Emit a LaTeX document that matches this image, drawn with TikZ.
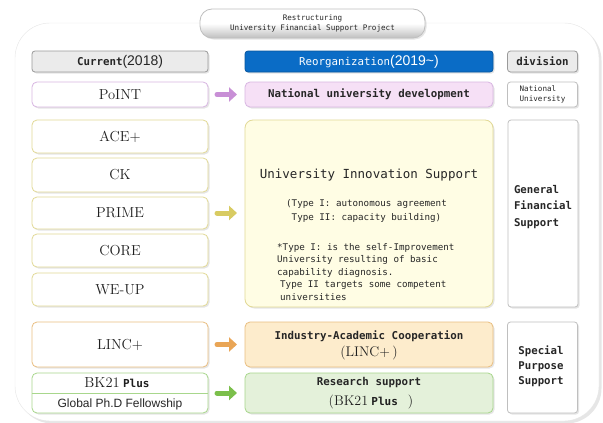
\documentclass[tikz,border=0pt]{standalone}
\usepackage{fontspec}
\usepackage{xcolor}
\usepackage{tikz}
\usetikzlibrary{arrows.meta,shadows}

\newfontfamily\monofam{DejaVu Sans Mono}
\newfontfamily\sansfam{Liberation Sans}
\newcommand{\fsz}[2]{\fontsize{#1}{#2}\selectfont}

\definecolor{boxgray}{HTML}{EBEBEB}
\definecolor{edgegray}{HTML}{9A9A9A}
\definecolor{reorgblue}{HTML}{0A6CC6}
\definecolor{violetedge}{HTML}{D8B6E2}
\definecolor{violetfill}{HTML}{F6E0F6}
\definecolor{violetarrow}{HTML}{C88FD6}
\definecolor{khakiedge}{HTML}{E2D996}
\definecolor{khakifill}{HTML}{FFFDE4}
\definecolor{khakiarrow}{HTML}{D8CB62}
\definecolor{orangeedge}{HTML}{E9BE80}
\definecolor{orangefill}{HTML}{FDECCC}
\definecolor{orangearrow}{HTML}{E9A556}
\definecolor{greenedge}{HTML}{A8D78C}
\definecolor{greenfill}{HTML}{E4F1DA}
\definecolor{greenarrow}{HTML}{7BBF4B}

\begin{document}
\begin{tikzpicture}
    [x=1pt,y=-1pt,
    box/.style={draw,rounded corners=5pt,inner sep=0pt,outer sep=0pt,line width=0.8pt,
        drop shadow={shadow xshift=1.5pt,shadow yshift=-1.5pt,opacity=0.2}},
    oldbox/.style={box,fill=white,minimum width=176pt,text=black!88,font=\fsz{14.5}{17}},
    newbox/.style={box,minimum width=248pt},
    divbox/.style={box,rounded corners=3pt,fill=white,draw=black!25,minimum width=70pt},
    headbox/.style={box,rounded corners=3pt,fill=boxgray,draw=edgegray,minimum height=21pt,text=black!85},
    shift arrow/.style={line width=5pt,line cap=round,-{Triangle[length=8pt,width=14pt]},
        shorten <=9pt,shorten >=8pt},
    caption/.style={inner sep=0pt,text=black!85},
    monotext/.style={font=\monofam\bfseries\fsz{10.8}{13},text=black!85}]

\useasboundingbox (0,0) rectangle (603,423);

%outer frame and title
\node[draw=black!10,fill=white,rounded corners=35pt,minimum width=584pt,minimum height=398pt,inner sep=0pt,
    drop shadow={shadow xshift=2.5pt,shadow yshift=-2.5pt,opacity=0.2}] (frame) at (307,222) {};
\node[box,rounded corners=12pt,top color=white,bottom color=black!25,middle color=white,draw=black!25,
    minimum width=225pt,minimum height=29pt,align=center,font=\monofam\fsz{7.6}{10.5},text=black!85]
    (title) at (312.5,23.5) {Restructuring\\University Financial Support Project};

%column headers
\node[headbox,minimum width=176pt] (current) at (120,61.5)
    {{\monofam\bfseries\fsz{10.8}{13}Current}{\sansfam\fsz{14}{16}(2018)}};
\node[headbox,minimum width=248pt,fill=reorgblue,draw=reorgblue!80!black,text=white] (reorg) at (369,61.5)
    {{\monofam\fsz{10.8}{13}Reorganization}{\sansfam\fsz{14}{16}(2019\textasciitilde)}};
\node[headbox,minimum width=70pt] (division) at (542.5,61.5) {{\monofam\bfseries\fsz{10.8}{13}division}};

%national university row
\node[oldbox,draw=violetedge,minimum height=25pt] (point) at (120,94.5) {PoINT};
\node[newbox,fill=violetfill,draw=violetedge,minimum height=25pt,monotext] (natl) at (369,94.5)
    {National university development};
\node[divbox,minimum height=25pt,align=left,font=\monofam\fsz{7.6}{9.5},text=black!85] (natuni) at (542.5,94.5)
    {National\\University};

%general financial support rows
\node[oldbox,draw=khakiedge,minimum height=33pt] (ace) at (120,136.5) {ACE+};
\node[oldbox,draw=khakiedge,minimum height=34pt] (ck) at (120,175) {CK};
\node[oldbox,draw=khakiedge,minimum height=32pt] (prime) at (120,213) {PRIME};
\node[oldbox,draw=khakiedge,minimum height=33pt] (core) at (120,250.5) {CORE};
\node[oldbox,draw=khakiedge,minimum height=33pt] (weup) at (120,289.5) {WE-UP};

\node[newbox,fill=khakifill,draw=khakiedge,minimum height=187pt,rounded corners=8pt] (innov) at (369,213.5) {};
\node[caption,font=\monofam\fsz{12.5}{15}] (innovhead) at (369,175) {University Innovation Support};
\node[caption,anchor=west,align=left,font=\monofam\fsz{9.2}{14}] (innovtype) at (286,211)
    {(Type I: autonomous agreement\\\phantom{(}Type II: capacity building)};
\node[caption,anchor=west,align=left,font=\monofam\fsz{9.2}{12.5}] (innovnote) at (277,272)
    {*Type I: is the self-Improvement\\University resulting of basic\\capability diagnosis.\\
    \hspace*{3pt}Type II targets some competent\\\hspace*{3pt}universities};

\node[divbox,minimum height=187pt] (genfin) at (543,213.5) {};
\node[caption,align=left,font=\monofam\bfseries\fsz{10.7}{16.5}] (genfintext) at (543,207)
    {General\\Financial\\Support};

%special purpose rows
\node[oldbox,draw=orangeedge,minimum height=45pt] (linc) at (120,344.5) {LINC+};
\node[newbox,fill=orangefill,draw=orangeedge,minimum height=45pt] (industry) at (369,344.5) {};
\node[caption,monotext] (industrytop) at (369,336) {Industry-Academic Cooperation};
\node[caption,text=black!88,font=\fsz{14}{16}] (industrybottom) at (369,353) {(LINC+\,)};

\node[oldbox,draw=greenedge,minimum height=40pt] (bk) at (120,393) {};
\draw[greenedge,line width=0.6pt] (bk.west) -- (bk.east);
\node[caption,text=black!88] (bktop) at (117,383) {{\fsz{14.5}{16}BK21} {\monofam\bfseries\fsz{11}{13}Plus}};
\node[caption,font=\sansfam\fsz{12}{14}] (bkbottom) at (120,404) {Global Ph.D Fellowship};

\node[newbox,fill=greenfill,draw=greenedge,minimum height=40pt] (research) at (369,393) {};
\node[caption,monotext] (researchtop) at (369,383) {Research support};
\node[caption,text=black!88] (researchbottom) at (371,402)
    {{\fsz{14}{16}(BK21} {\monofam\bfseries\fsz{11}{13}Plus}\hspace{10pt}{\fsz{14}{16})}};

\node[divbox,minimum height=91pt] (special) at (542.5,367.5) {};
\node[caption,align=left,font=\monofam\bfseries\fsz{10.7}{15}] (specialtext) at (541,366)
    {Special\\Purpose\\Support};

%arrows from current to reorganized programmes
\draw[shift arrow,violetarrow] (point.east) -- (natl.west);
\draw[shift arrow,khakiarrow] (prime.east) -- (prime.east -| innov.west);
\draw[shift arrow,orangearrow] (linc.east) -- (industry.west);
\draw[shift arrow,greenarrow] (bk.east) -- (research.west);

\end{tikzpicture}
\end{document}
